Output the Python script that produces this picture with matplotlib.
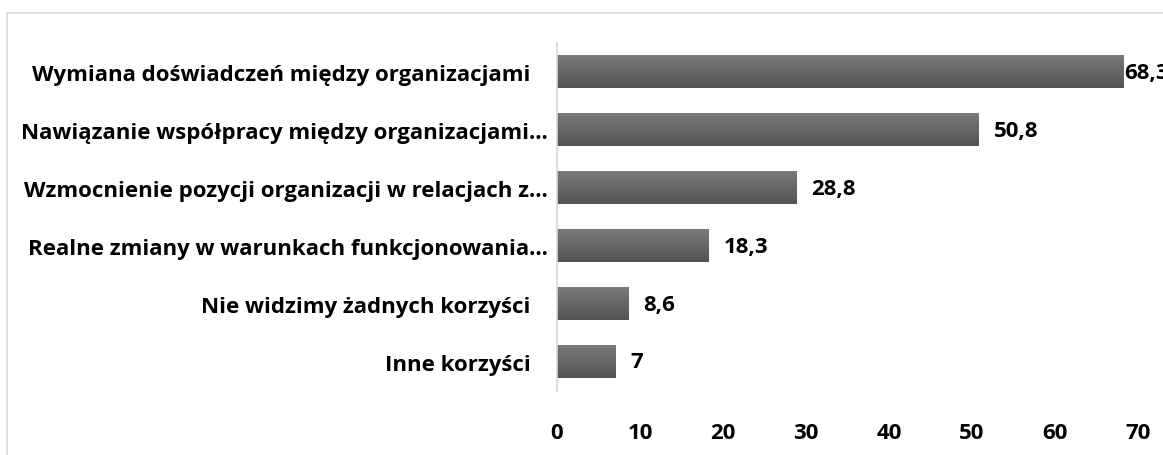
import numpy as np
import matplotlib
matplotlib.use('Agg')
import matplotlib.pyplot as plt
from matplotlib.patches import Rectangle

categories = [
    'Wymiana doświadczeń między organizacjami   ',
    'Nawiązanie współpracy między organizacjami…',
    'Wzmocnienie pozycji organizacji w relacjach z…',
    'Realne zmiany w warunkach funkcjonowania…',
    'Nie widzimy żadnych korzyści   ',
    'Inne korzyści   ',
]
values = [68.3, 50.8, 28.8, 18.3, 8.6, 7]
value_labels = ['68,3', '50,8', '28,8', '18,3', '8,6', '7']
xticks = [0, 10, 20, 30, 40, 50, 60, 70]

plt.rcParams['font.family'] = ['Open Sans', 'DejaVu Sans']
plt.rcParams['font.weight'] = 'bold'
FS = 16

fig = plt.figure(figsize=(11.63, 4.56), dpi=100)
ax = fig.add_axes([557 / 1163, 1 - 392 / 456, (1138 - 557) / 1163, 348 / 456])

# light border round the chart area
fig.patches.append(Rectangle((7 / 1163, -0.1), 1.2, 1 - 14 / 456 + 0.1,
                             transform=fig.transFigure, fill=False,
                             edgecolor='#d9d9d9', linewidth=1.2))

y = np.arange(len(values))[::-1]
h = 0.56
grad = np.linspace(0, 1, 64).reshape(-1, 1)
cmap = matplotlib.colors.LinearSegmentedColormap.from_list('g', ['#535353', '#7a7a7a'])
for yi, v in zip(y, values):
    ax.imshow(grad, extent=[0, v, yi - h / 2, yi + h / 2], origin='lower',
              aspect='auto', cmap=cmap, zorder=2)

# value labels, the first one sits right at the bar end like in the source
for i, (yi, v, lab) in enumerate(zip(y, values, value_labels)):
    off = 0.1 if i == 0 else 1.8
    ax.text(v + off, yi, lab, va='center', ha='left', fontsize=FS,
            fontweight='bold', color='black', clip_on=False)

ax.set_xlim(0, 70)
ax.set_ylim(-0.5, len(values) - 0.5)
ax.set_yticks(y)
ax.set_yticklabels(categories, fontsize=FS, fontweight='bold')
ax.set_xticks(xticks)
ax.set_xticklabels([str(t) for t in xticks], fontsize=FS, fontweight='bold')
ax.tick_params(axis='y', length=0, pad=6.5)
ax.tick_params(axis='x', length=0, pad=22)
for s in ['top', 'right', 'bottom']:
    ax.spines[s].set_visible(False)
ax.spines['left'].set_color('#d9d9d9')
ax.spines['left'].set_linewidth(1.2)

fig.savefig('out.png', dpi=100)
